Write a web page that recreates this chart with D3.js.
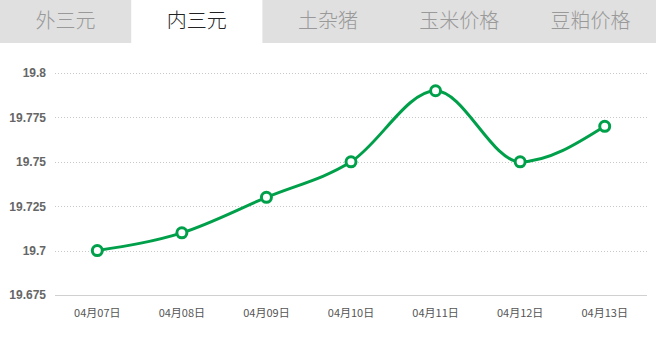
<!DOCTYPE html>
<html>
<head>
<meta charset="utf-8">
<script src="https://cdn.jsdelivr.net/npm/d3@7"></script>
<style>
  html, body { margin: 0; padding: 0; background: #fff; }
  svg { display: block; }
</style>
</head>
<body>
<svg id="chart" width="656" height="340"></svg>
<script>
// Tabs across the top; the second one is the active series
const tabs = ["外三元", "内三元", "土杂猪", "玉米价格", "豆粕价格"];
const activeTab = 1;

// Daily price series
const dates = ["04月07日", "04月08日", "04月09日", "04月10日", "04月11日", "04月12日", "04月13日"];
const prices = [19.70, 19.71, 19.73, 19.75, 19.79, 19.75, 19.77];

// Y axis ticks
const yTicks = [19.675, 19.7, 19.725, 19.75, 19.775, 19.8];

(function () {
  const W = 656;
  const svg = d3.select("#chart");

  // ---- tab bar ----
  const tabH = 43;
  const tabX = d3.scaleBand().domain(tabs).range([0, W]);
  svg.append("rect").attr("x", 0).attr("y", 0).attr("width", W).attr("height", tabH).attr("fill", "#e0e0e0");
  const tabG = svg.append("g").selectAll("g").data(tabs).join("g")
    .attr("transform", d => `translate(${tabX(d)},0)`);
  tabG.filter((d, i) => i === activeTab).append("rect")
    .attr("width", tabX.bandwidth()).attr("height", tabH).attr("fill", "#fff");
  tabG.append("text")
    .attr("x", tabX.bandwidth() / 2)
    .attr("y", 28)
    .attr("text-anchor", "middle")
    .attr("font-family", "'Noto Sans CJK SC', sans-serif")
    .attr("font-weight", 300)
    .attr("font-size", 20)
    .attr("fill", (d, i) => i === activeTab ? "#222" : "#999")
    .text(d => d);

  // ---- plot area ----
  const plotL = 55, plotR = 647, plotT = 73, plotB = 295;
  const x = d3.scaleBand().domain(dates).range([plotL, plotR]);
  const y = d3.scaleLinear().domain([19.675, 19.8]).range([plotB, plotT]);
  const cx = d => x(d) + x.bandwidth() / 2;

  // dotted grid lines
  svg.append("g").selectAll("line").data(yTicks.filter(t => t !== 19.675)).join("line")
    .attr("x1", plotL).attr("x2", plotR)
    .attr("y1", d => Math.round(y(d)) + 0.5).attr("y2", d => Math.round(y(d)) + 0.5)
    .attr("stroke", "#c8c8c8").attr("stroke-width", 1).attr("stroke-dasharray", "1,2");

  // y axis labels
  const yAxis = d3.axisLeft(y).tickValues(yTicks).tickSize(0).tickPadding(9)
    .tickFormat(d => String(+d.toFixed(3)));
  const gy = svg.append("g").attr("transform", `translate(${plotL},0)`).call(yAxis);
  gy.select(".domain").remove();
  gy.selectAll("text")
    .attr("font-family", "'Liberation Sans', Arial, sans-serif")
    .attr("font-size", 12).attr("font-weight", "bold").attr("fill", "#666");

  // x axis
  const xAxis = d3.axisBottom(x).tickSize(0).tickPadding(14);
  const gx = svg.append("g").attr("transform", `translate(0,${plotB})`).call(xAxis);
  gx.select(".domain").attr("stroke", "#d0d0d0").attr("d", `M${plotL},0.5H${plotR}`);
  gx.selectAll("text")
    .attr("font-family", "'Noto Sans CJK SC', sans-serif")
    .attr("font-size", 11).attr("fill", "#555");

  // price line
  const line = d3.line()
    .x((d, i) => cx(dates[i]))
    .y(d => y(d))
    .curve(d3.curveMonotoneX);
  svg.append("path").datum(prices)
    .attr("d", line)
    .attr("fill", "none").attr("stroke", "#00a04a").attr("stroke-width", 3);

  // markers
  svg.append("g").selectAll("circle").data(prices).join("circle")
    .attr("cx", (d, i) => cx(dates[i]))
    .attr("cy", d => y(d))
    .attr("r", 5)
    .attr("fill", "#fff").attr("stroke", "#00a04a").attr("stroke-width", 3);
})();
</script>
</body>
</html>
